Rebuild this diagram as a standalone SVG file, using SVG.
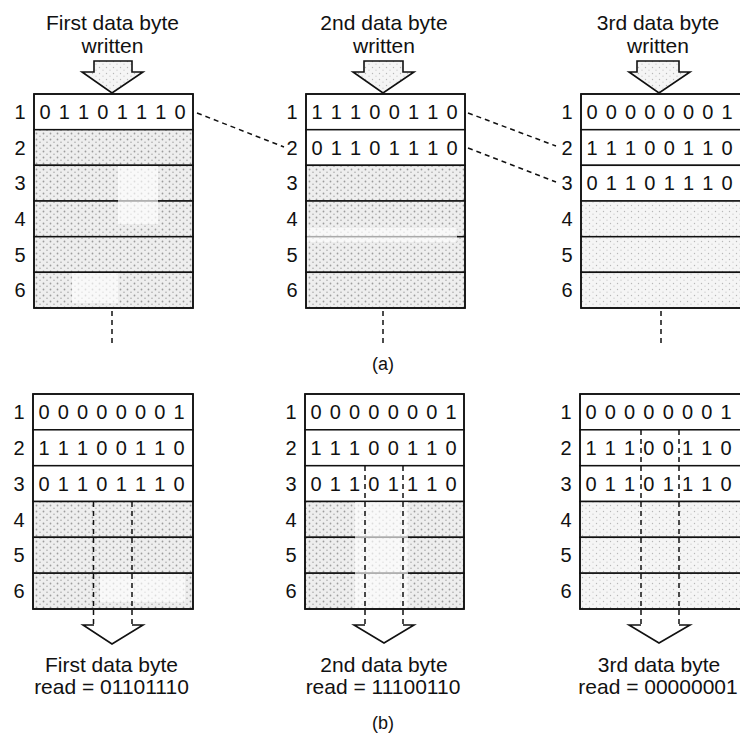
<svg xmlns="http://www.w3.org/2000/svg" width="740" height="735" viewBox="0 0 740 735">
<defs>
<pattern id="stip" width="7" height="6" patternUnits="userSpaceOnUse">
<rect width="7" height="6" fill="#eeeeee"/>
<circle cx="1.5" cy="1.5" r="0.9" fill="#9c9c9c"/>
<circle cx="5" cy="4.2" r="0.8" fill="#aaaaaa"/>
</pattern>
<pattern id="stipL" width="7" height="6" patternUnits="userSpaceOnUse">
<rect width="7" height="6" fill="#f5f5f5"/>
<circle cx="1.5" cy="1.5" r="0.7" fill="#b8b8b8"/>
<circle cx="5" cy="4.2" r="0.6" fill="#c4c4c4"/>
</pattern>
</defs>
<style>
text{font-family:"Liberation Sans",Arial,Helvetica,sans-serif;fill:#111;}
.t{font-size:21px;text-anchor:middle;}
.d{font-size:20px;text-anchor:middle;}
.lb{font-size:20px;text-anchor:middle;}
.cap{font-size:18px;text-anchor:middle;}
.box{fill:none;stroke:#111;stroke-width:1.6;}
.w{fill:#fff;stroke:#111;stroke-width:1.5;}
.s{fill:url(#stip);stroke:#111;stroke-width:1.5;}
.sl{fill:url(#stipL);stroke:#111;stroke-width:1.5;}
.dash{fill:none;stroke:#111;stroke-width:1.5;stroke-dasharray:5 4;}
.arr{fill:url(#stipL);stroke:#111;stroke-width:1.6;stroke-linejoin:miter;}
.arro{fill:none;stroke:#111;stroke-width:1.6;}
.patch{fill:#fff;opacity:0.65;}
</style>
<rect width="740" height="735" fill="#fff"/>

<!-- (a) top stacks -->
<g id="stackA1">
<text class="t" x="112.5" y="30">First data byte</text>
<text class="t" x="112.5" y="53">written</text>
<polygon class="arr" points="94,61 132,61 132,72 143,72 112,93 82,72 94,72"/>
<rect class="w" x="34" y="94" width="159" height="35.7"/>
<rect class="s" x="34" y="129.7" width="159" height="35.6"/>
<rect class="s" x="34" y="165.3" width="159" height="35.7"/>
<rect class="s" x="34" y="201" width="159" height="35.7"/>
<rect class="s" x="34" y="236.7" width="159" height="35.6"/>
<rect class="s" x="34" y="272.3" width="159" height="35.7"/>
<rect class="patch" x="118" y="166" width="40" height="58"/>
<rect class="patch" x="72" y="273" width="46" height="30"/>
<rect class="box" x="34" y="94" width="159" height="214"/>
<text class="d" x="45 64.3 83.6 102.9 122.2 141.5 160.8 180.1" y="119">01101110</text>
<text class="lb" x="20" y="119">1</text>
<text class="lb" x="20" y="154.7">2</text>
<text class="lb" x="20" y="190.3">3</text>
<text class="lb" x="20" y="226">4</text>
<text class="lb" x="20" y="261.7">5</text>
<text class="lb" x="20" y="297.3">6</text>
</g>

<g id="stackA2">
<text class="t" x="384" y="30">2nd data byte</text>
<text class="t" x="384" y="53">written</text>
<polygon class="arr" points="364,61 403,61 403,72 414,72 383,93 353,72 364,72"/>
<rect class="w" x="306" y="94" width="159" height="35.7"/>
<rect class="w" x="306" y="129.7" width="159" height="35.6"/>
<rect class="s" x="306" y="165.3" width="159" height="35.7"/>
<rect class="s" x="306" y="201" width="159" height="35.7"/>
<rect class="s" x="306" y="236.7" width="159" height="35.6"/>
<rect class="s" x="306" y="272.3" width="159" height="35.7"/>
<rect class="patch" x="307" y="228" width="150" height="14"/>
<rect class="box" x="306" y="94" width="159" height="214"/>
<text class="d" x="317 336.3 355.6 374.9 394.2 413.5 432.8 452.1" y="119">11100110</text>
<text class="d" x="317 336.3 355.6 374.9 394.2 413.5 432.8 452.1" y="154.7">01101110</text>
<text class="lb" x="292" y="119">1</text>
<text class="lb" x="292" y="154.7">2</text>
<text class="lb" x="292" y="190.3">3</text>
<text class="lb" x="292" y="226">4</text>
<text class="lb" x="292" y="261.7">5</text>
<text class="lb" x="292" y="297.3">6</text>
</g>

<g id="stackA3">
<text class="t" x="658" y="30">3rd data byte</text>
<text class="t" x="658" y="53">written</text>
<polygon class="arr" points="637,61 679,61 679,72 690,72 659,93 629,72 637,72"/>
<rect class="w" x="581" y="94" width="160" height="35.7"/>
<rect class="w" x="581" y="129.7" width="160" height="35.6"/>
<rect class="w" x="581" y="165.3" width="160" height="35.7"/>
<rect class="sl" x="581" y="201" width="160" height="35.7"/>
<rect class="sl" x="581" y="236.7" width="160" height="35.6"/>
<rect class="sl" x="581" y="272.3" width="160" height="35.7"/>
<rect class="box" x="581" y="94" width="160" height="214"/>
<text class="d" x="592 611.3 630.6 649.9 669.2 688.5 707.8 727.1" y="119">00000001</text>
<text class="d" x="592 611.3 630.6 649.9 669.2 688.5 707.8 727.1" y="154.7">11100110</text>
<text class="d" x="592 611.3 630.6 649.9 669.2 688.5 707.8 727.1" y="190.3">01101110</text>
<text class="lb" x="567" y="119">1</text>
<text class="lb" x="567" y="154.7">2</text>
<text class="lb" x="567" y="190.3">3</text>
<text class="lb" x="567" y="226">4</text>
<text class="lb" x="567" y="261.7">5</text>
<text class="lb" x="567" y="297.3">6</text>
</g>

<text class="cap" x="383" y="370">(a)</text>

<!-- (b) bottom stacks -->
<g id="stackB1">
<rect class="w" x="33" y="394" width="160" height="35.8"/>
<rect class="w" x="33" y="429.8" width="160" height="35.9"/>
<rect class="w" x="33" y="465.7" width="160" height="35.8"/>
<rect class="s" x="33" y="501.5" width="160" height="35.8"/>
<rect class="s" x="33" y="537.3" width="160" height="35.9"/>
<rect class="s" x="33" y="573.2" width="160" height="35.8"/>
<rect class="patch" x="100" y="574" width="85" height="28"/>
<rect class="box" x="33" y="394" width="160" height="215"/>
<text class="d" x="44 63.3 82.6 101.9 121.2 140.5 159.8 179.1" y="419">00000001</text>
<text class="d" x="44 63.3 82.6 101.9 121.2 140.5 159.8 179.1" y="454.8">11100110</text>
<text class="d" x="44 63.3 82.6 101.9 121.2 140.5 159.8 179.1" y="490.7">01101110</text>
<text class="lb" x="19" y="419">1</text>
<text class="lb" x="19" y="454.8">2</text>
<text class="lb" x="19" y="490.7">3</text>
<text class="lb" x="19" y="526.5">4</text>
<text class="lb" x="19" y="562.3">5</text>
<text class="lb" x="19" y="598.2">6</text>
<polyline class="arro" points="94,625 83,625 112,644 143,625 132,625"/>
<text class="t" x="111.5" y="672">First data byte</text>
<text class="t" x="111.5" y="694">read = 01101110</text>
</g>

<g id="stackB2">
<rect class="w" x="305" y="394" width="159" height="35.8"/>
<rect class="w" x="305" y="429.8" width="159" height="35.9"/>
<rect class="w" x="305" y="465.7" width="159" height="35.8"/>
<rect class="s" x="305" y="501.5" width="159" height="35.8"/>
<rect class="s" x="305" y="537.3" width="159" height="35.9"/>
<rect class="s" x="305" y="573.2" width="159" height="35.8"/>
<rect class="patch" x="355" y="502" width="53" height="106"/>
<rect class="box" x="305" y="394" width="159" height="215"/>
<text class="d" x="316 335.3 354.6 373.9 393.2 412.5 431.8 451.1" y="419">00000001</text>
<text class="d" x="316 335.3 354.6 373.9 393.2 412.5 431.8 451.1" y="454.8">11100110</text>
<text class="d" x="316 335.3 354.6 373.9 393.2 412.5 431.8 451.1" y="490.7">01101110</text>
<text class="lb" x="291" y="419">1</text>
<text class="lb" x="291" y="454.8">2</text>
<text class="lb" x="291" y="490.7">3</text>
<text class="lb" x="291" y="526.5">4</text>
<text class="lb" x="291" y="562.3">5</text>
<text class="lb" x="291" y="598.2">6</text>
<polyline class="arro" points="365,625 354,625 384,643 414,625 403,625"/>
<text class="t" x="384" y="672">2nd data byte</text>
<text class="t" x="383" y="694">read = 11100110</text>
</g>

<g id="stackB3">
<rect class="w" x="580" y="394" width="161" height="35.8"/>
<rect class="w" x="580" y="429.8" width="161" height="35.9"/>
<rect class="w" x="580" y="465.7" width="161" height="35.8"/>
<rect class="sl" x="580" y="501.5" width="161" height="35.8"/>
<rect class="sl" x="580" y="537.3" width="161" height="35.9"/>
<rect class="sl" x="580" y="573.2" width="161" height="35.8"/>
<rect class="box" x="580" y="394" width="161" height="215"/>
<text class="d" x="591 610.3 629.6 648.9 668.2 687.5 706.8 726.1" y="419">00000001</text>
<text class="d" x="591 610.3 629.6 648.9 668.2 687.5 706.8 726.1" y="454.8">11100110</text>
<text class="d" x="591 610.3 629.6 648.9 668.2 687.5 706.8 726.1" y="490.7">01101110</text>
<text class="lb" x="566" y="419">1</text>
<text class="lb" x="566" y="454.8">2</text>
<text class="lb" x="566" y="490.7">3</text>
<text class="lb" x="566" y="526.5">4</text>
<text class="lb" x="566" y="562.3">5</text>
<text class="lb" x="566" y="598.2">6</text>
<polyline class="arro" points="641,625 629,625 659,643 690,625 679,625"/>
<text class="t" x="659" y="672">3rd data byte</text>
<text class="t" x="658" y="694">read = 00000001</text>
</g>

<text class="cap" x="383" y="729">(b)</text>

<g id="connectors">
<line class="dash" x1="197" y1="113" x2="284" y2="147"/>
<line class="dash" x1="468" y1="113" x2="556" y2="146"/>
<line class="dash" x1="468" y1="148" x2="556" y2="182"/>
<line class="dash" x1="112" y1="311" x2="112" y2="346"/>
<line class="dash" x1="383" y1="311" x2="383" y2="346"/>
<line class="dash" x1="661" y1="311" x2="661" y2="346"/>
<line class="dash" x1="93.5" y1="502" x2="93.5" y2="625"/>
<line class="dash" x1="132" y1="502" x2="132" y2="625"/>
<line class="dash" x1="365" y1="466" x2="365" y2="625"/>
<line class="dash" x1="403" y1="466" x2="403" y2="625"/>
<line class="dash" x1="641" y1="430" x2="641" y2="625"/>
<line class="dash" x1="679" y1="430" x2="679" y2="625"/>
</g>
</svg>
